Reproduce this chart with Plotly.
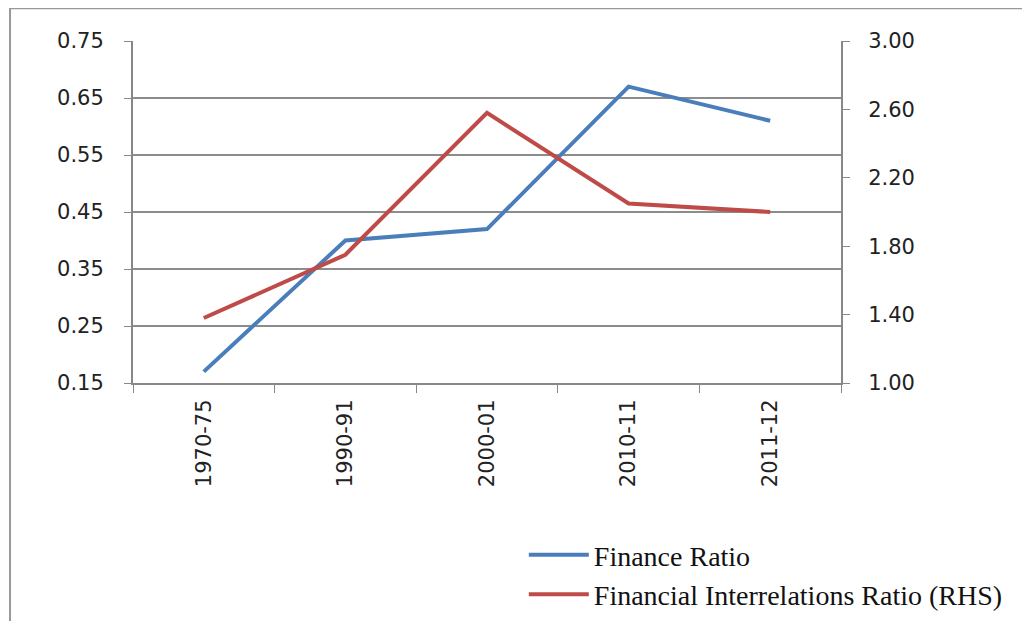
import plotly.graph_objects as go

categories = ["1970-75", "1990-91", "2000-01", "2010-11", "2011-12"]
finance_ratio = [0.17, 0.40, 0.42, 0.67, 0.61]
fir_ratio = [1.38, 1.75, 2.58, 2.05, 2.00]
left_ticks = [0.15, 0.25, 0.35, 0.45, 0.55, 0.65, 0.75]
right_ticks = [1.00, 1.40, 1.80, 2.20, 2.60, 3.00]

fig = go.Figure()
fig.add_trace(go.Scatter(x=categories, y=finance_ratio, mode="lines", name="Finance Ratio",
                         line=dict(color="#4A7EBB", width=4)))
fig.add_trace(go.Scatter(x=categories, y=fir_ratio, mode="lines", name="Financial Interrelations Ratio (RHS)",
                         line=dict(color="#BE4B48", width=4), yaxis="y2"))

tickfont = dict(family="DejaVu Sans", size=21, color="#222")
fig.update_layout(
    width=1030, height=621,
    margin=dict(l=125, r=197, t=33, b=245),
    paper_bgcolor="white", plot_bgcolor="white",
    xaxis=dict(type="category", tickangle=-90, tickfont=tickfont, showgrid=False,
               showline=True, linecolor="#888", linewidth=2, ticks="outside",
               tickson="boundaries", ticklen=8, tickcolor="#888", tickwidth=1,
               ticklabelstandoff=6, range=[-0.5, 4.5]),
    yaxis=dict(range=[0.15, 0.75], tickvals=left_ticks, ticktext=[f"{v:.2f}" for v in left_ticks],
               tickfont=tickfont, showgrid=True, gridcolor="#8c8c8c", gridwidth=1.5,
               showline=True, linecolor="#888", linewidth=2, ticks="outside", ticklen=7,
               tickcolor="#888", zeroline=False, ticklabelstandoff=16),
    yaxis2=dict(range=[1.0, 3.0], tickvals=right_ticks, ticktext=[f"{v:.2f}" for v in right_ticks],
                overlaying="y", side="right", tickfont=tickfont, showgrid=False,
                showline=True, linecolor="#888", linewidth=2, ticks="outside", ticklen=7,
                tickcolor="#888", zeroline=False, ticklabelstandoff=14),
    legend=dict(x=0.552, y=-0.426, xanchor="left", yanchor="top",
                font=dict(family="Liberation Serif", size=28, color="#111"),
                bgcolor="rgba(0,0,0,0)", tracegroupgap=0, itemwidth=60),
    showlegend=True,
    shapes=[dict(type="rect", xref="paper", yref="paper", x0=-0.1737, x1=1.28, y0=-0.75, y1=1.096,
                 line=dict(color="#999", width=2), fillcolor="rgba(0,0,0,0)", layer="below")],
)

fig.write_html("out.html")
